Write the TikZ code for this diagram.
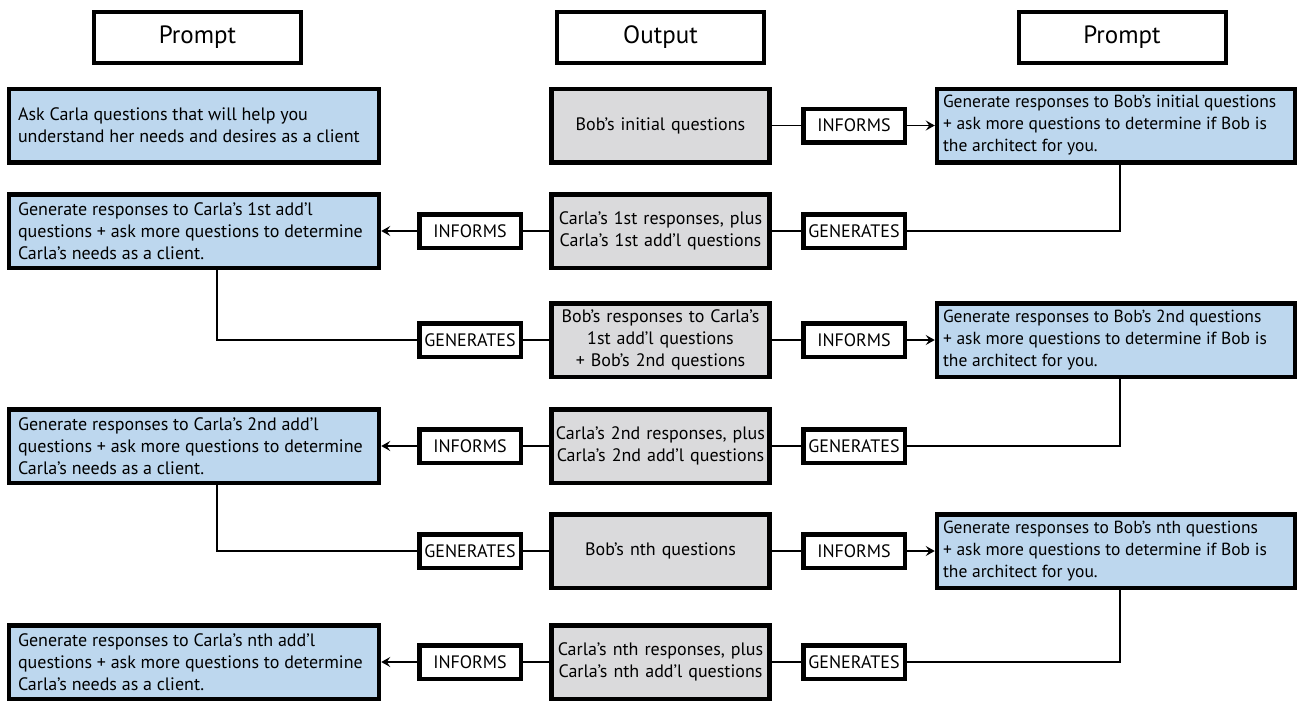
\documentclass[tikz,border=0pt]{standalone}
\usepackage{fontspec}
\setmainfont{PT Sans}
\usetikzlibrary{arrows.meta}
\definecolor{boxblue}{RGB}{189,215,238}
\definecolor{boxgray}{RGB}{218,218,220}
\begin{document}
\begin{tikzpicture}[x=1pt,y=-1pt,
  header/.style={draw, line width=4pt, fill=white, minimum width=207pt, minimum height=51pt, inner sep=0pt, font=\fontsize{25}{28}\selectfont},
  bluebox/.style={draw, line width=4.5pt, fill=boxblue, minimum height=73.5pt, inner ysep=0pt, align=flush left, font=\fontsize{18}{22}\selectfont},
  leftbox/.style={bluebox, inner xsep=9pt, text width=352pt},
  rightbox/.style={bluebox, inner xsep=6pt, text width=346pt, font=\fontsize{17.5}{22}\selectfont},
  graybox/.style={draw, line width=4.5pt, fill=boxgray, minimum height=73.5pt, text width=212pt, inner xsep=3pt, inner ysep=0pt, align=center, font=\fontsize{18}{22}\selectfont},
  lbl/.style={draw, line width=4.5pt, fill=white, minimum width=101.5pt, minimum height=33.5pt, inner sep=0pt, font=\fontsize{18}{20}\selectfont},
  conn/.style={line width=1.8pt},
  arr/.style={conn, -{Stealth[length=9pt,width=10pt,inset=3.5pt]}}
]
\useasboundingbox (0,0) rectangle (1300,701);
% headers
\node[header] (H1) at (197.5,37.5) {Prompt};
\node[header] (H2) at (660.5,37.5) {Output};
\node[header] (H3) at (1122,37.5) {Prompt};
% left prompt boxes
\node[leftbox] (L1) at (194,125.5) {Ask Carla questions that will help you\\ understand her needs and desires as a client};
\node[leftbox] (L2) at (194,231) {Generate responses to Carla’s 1st add’l\\ questions + ask more questions to determine\\ Carla’s needs as a client.};
\node[leftbox] (L3) at (194,446) {Generate responses to Carla’s 2nd add’l\\ questions + ask more questions to determine\\ Carla’s needs as a client.};
\node[leftbox] (L4) at (194,662) {Generate responses to Carla’s nth add’l\\ questions + ask more questions to determine\\ Carla’s needs as a client.};
% output boxes
\node[graybox] (C1) at (660.5,125.5) {Bob’s initial questions};
\node[graybox] (C2) at (660.5,231) {Carla’s 1st responses, plus\\ Carla’s 1st add’l questions};
\node[graybox] (C3) at (660.5,340) {Bob’s responses to Carla’s\\ 1st add’l questions\\ + Bob’s 2nd questions};
\node[graybox] (C4) at (660.5,446) {Carla’s 2nd responses, plus\\ Carla’s 2nd add’l questions};
\node[graybox] (C5) at (660.5,551) {Bob’s nth questions};
\node[graybox] (C6) at (660.5,662) {Carla’s nth responses, plus\\ Carla’s nth add’l questions};
% right prompt boxes
\node[rightbox] (R1) at (1116,125.5) {Generate responses to Bob’s initial questions\\ + ask more questions to determine if Bob is\\ the architect for you.};
\node[rightbox] (R2) at (1116,340) {Generate responses to Bob’s 2nd questions\\ + ask more questions to determine if Bob is\\ the architect for you.};
\node[rightbox] (R3) at (1116,551) {Generate responses to Bob’s nth questions\\ + ask more questions to determine if Bob is\\ the architect for you.};
% labels
\node[lbl] (I1) at (854,125.5) {INFORMS};
\node[lbl] (G1) at (854,231) {GENERATES};
\node[lbl] (I2) at (470,231) {INFORMS};
\node[lbl] (G2) at (470,340) {GENERATES};
\node[lbl] (I3) at (854,340) {INFORMS};
\node[lbl] (G3) at (854,446) {GENERATES};
\node[lbl] (I4) at (470,446) {INFORMS};
\node[lbl] (G4) at (470,551) {GENERATES};
\node[lbl] (I5) at (854,551) {INFORMS};
\node[lbl] (G5) at (854,662) {GENERATES};
\node[lbl] (I6) at (470,662) {INFORMS};
% connectors
\draw[conn] (C1.east) -- (I1.west);
\draw[arr] (I1.east) -- (R1.west);
\draw[conn] ([xshift=4pt]R1.south) |- (G1.east);
\draw[conn] (G1.west) -- (C2.east);
\draw[conn] (C2.west) -- (I2.east);
\draw[arr] (I2.west) -- (L2.east);
\draw[conn] ([xshift=23pt]L2.south) |- (G2.west);
\draw[conn] (G2.east) -- (C3.west);
\draw[conn] (C3.east) -- (I3.west);
\draw[arr] (I3.east) -- (R2.west);
\draw[conn] ([xshift=4pt]R2.south) |- (G3.east);
\draw[conn] (G3.west) -- (C4.east);
\draw[conn] (C4.west) -- (I4.east);
\draw[arr] (I4.west) -- (L3.east);
\draw[conn] ([xshift=23pt]L3.south) |- (G4.west);
\draw[conn] (G4.east) -- (C5.west);
\draw[conn] (C5.east) -- (I5.west);
\draw[arr] (I5.east) -- (R3.west);
\draw[conn] ([xshift=4pt]R3.south) |- (G5.east);
\draw[conn] (G5.west) -- (C6.east);
\draw[conn] (C6.west) -- (I6.east);
\draw[arr] (I6.west) -- (L4.east);
\end{tikzpicture}
\end{document}
